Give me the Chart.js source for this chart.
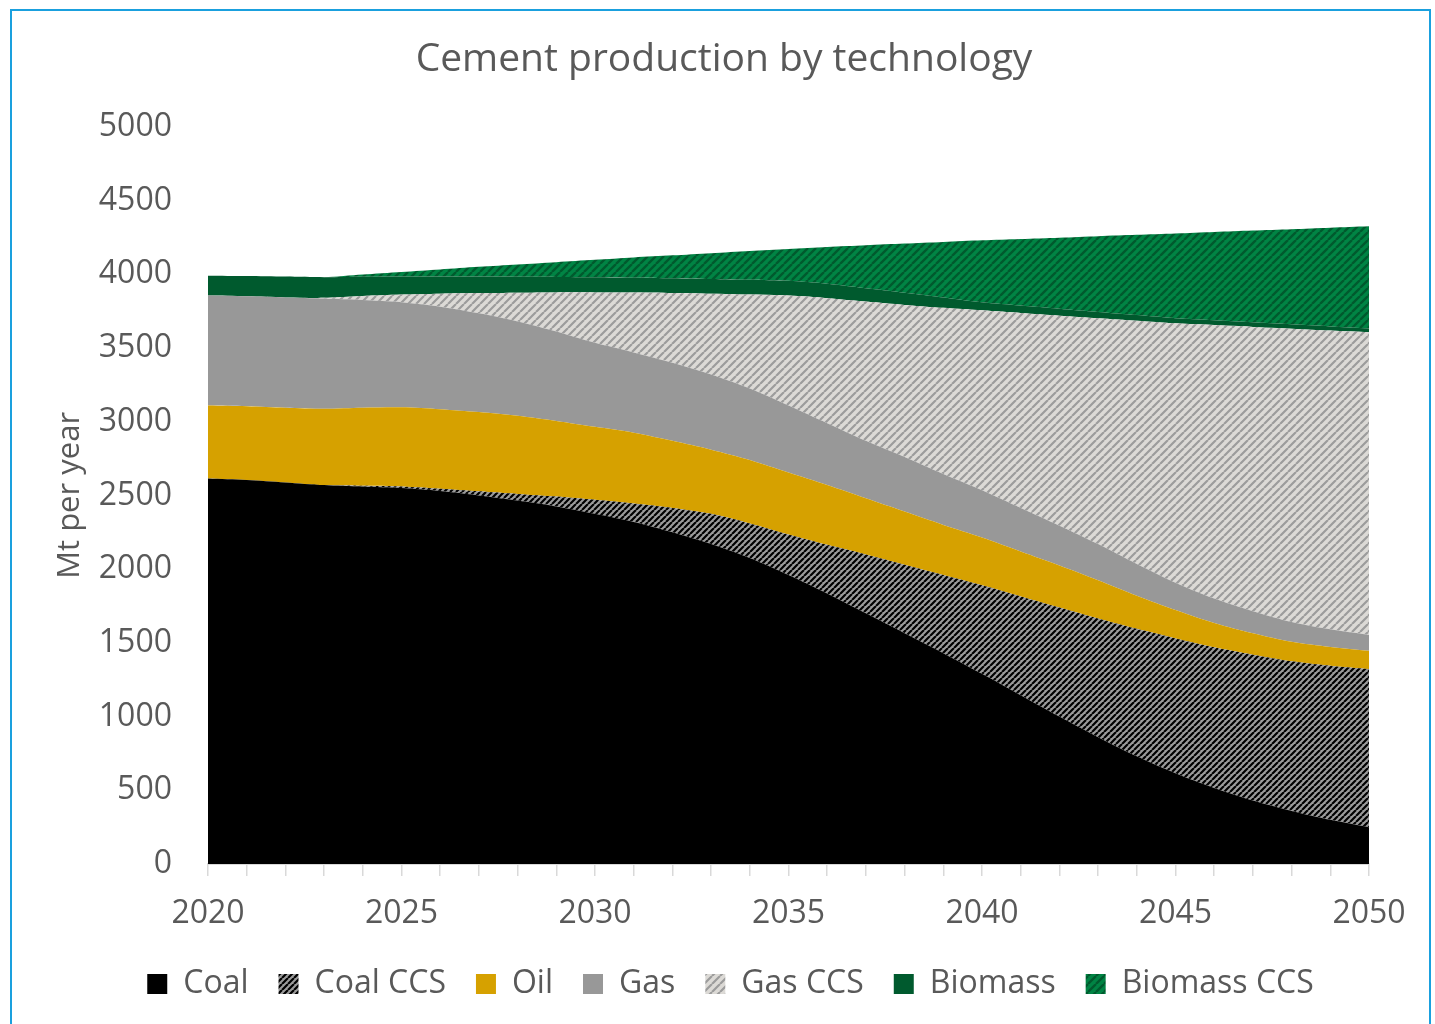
<!DOCTYPE html>
<html>
<head>
<meta charset="utf-8">
<script src="https://cdn.jsdelivr.net/npm/chart.js@4.4.1/dist/chart.umd.min.js"></script>
<style>
  html, body { margin: 0; padding: 0; background: #ffffff; }
  #wrap { position: absolute; left: 0; top: 0; width: 1435px; height: 1024px; }
  #frame { position: absolute; left: 10px; top: 9px; width: 1421px; height: 1030px;
           border-top: 2px solid #1AA0DE; border-left: 2px solid #1AA0DE; border-right: 2px solid #1AA0DE; box-sizing: border-box; }
  canvas { position: absolute; left: 0; top: 0; }
</style>
</head>
<body>
<div id="wrap">
  <div id="frame"></div>
  <canvas id="c" width="1435" height="1024"></canvas>
</div>
<script>
const years = [2020,2021,2022,2023,2024,2025,2026,2027,2028,2029,2030,2031,2032,2033,2034,2035,2036,2037,2038,2039,2040,2041,2042,2043,2044,2045,2046,2047,2048,2049,2050];
const coal = [2615,2605,2588,2570,2560,2550,2530,2500,2465,2425,2375,2320,2250,2170,2075,1960,1835,1700,1565,1430,1290,1145,1000,860,730,615,515,430,360,300,250];
const coalCCS = [0,0,0,0,5,10,15,28,45,67,95,125,165,205,235,275,330,400,465,530,600,670,740,805,865,915,955,990,1015,1045,1072];
const oil = [495,500,507,518,530,538,540,537,530,513,495,480,455,435,430,420,405,380,360,340,325,305,285,260,225,193,165,145,132,127,124];
const gas = [745,745,748,747,730,712,695,670,640,607,570,545,530,510,485,455,420,390,370,345,320,295,270,245,215,185,165,150,135,120,108];
const gasCCS = [0,0,0,5,27,52,88,137,195,265,342,406,473,548,637,745,848,945,1032,1127,1220,1322,1424,1532,1650,1759,1855,1928,1989,2026,2052];
const biomass = [135,138,141,140,131,123,117,112,108,105,103,101,100,100,100,100,97,90,83,71,55,51,47,42,38,35,33,31,29,28,26];
const biomassCCS = [0,0,0,0,15,30,47,66,83,100,118,137,155,175,196,217,250,292,333,376,420,451,482,514,544,574,598,622,645,669,693];
const yTicks = [0,500,1000,1500,2000,2500,3000,3500,4000,4500,5000];
const seriesNames = ['Coal','Coal CCS','Oil','Gas','Gas CCS','Biomass','Biomass CCS'];

const FONT = "'Open Sans', 'Liberation Sans', sans-serif";
const TXT = '#595959';

function stripes(bg, fg, period, width) {
  const c = document.createElement('canvas');
  c.width = period; c.height = period;
  const x = c.getContext('2d');
  x.fillStyle = bg; x.fillRect(0, 0, period, period);
  x.strokeStyle = fg; x.lineWidth = width;
  x.beginPath();
  for (let k = -1; k <= 1; k++) { x.moveTo(k * period, period); x.lineTo(k * period + period, 0); }
  x.stroke();
  return x.createPattern(c, 'repeat');
}

const fills = [
  '#000000',
  stripes('#9B9B9B', '#000000', 6, 2.2),
  '#D6A100',
  '#989898',
  stripes('#DCDAD6', '#9C9C9C', 8, 2.2),
  '#005A2E',
  stripes('#008444', '#005A2E', 8, 2.4)
];
const values = [coal, coalCCS, oil, gas, gasCCS, biomass, biomassCCS];

const datasets = values.map((v, i) => ({
  label: seriesNames[i],
  data: v,
  backgroundColor: fills[i],
  borderColor: 'rgba(0,0,0,0)',
  borderWidth: 0,
  pointRadius: 0,
  tension: 0.3,
  fill: i === 0 ? 'origin' : '-1'
}));

const recenter = {
  id: 'recenter',
  afterLayout(chart) {
    if (chart.titleBlock) { chart.titleBlock.left = 13; chart.titleBlock.right = 1435; }
    if (chart.legend) { chart.legend.left = 26; chart.legend.right = 1435; }
  }
};

new Chart(document.getElementById('c'), {
  type: 'line',
  data: { labels: years, datasets },
  plugins: [recenter],
  options: {
    responsive: false,
    animation: false,
    events: [],
    layout: { padding: { left: 48, right: 66, top: 0, bottom: 14 } },
    plugins: {
      title: {
        display: true,
        text: 'Cement production by technology',
        color: TXT,
        font: { family: FONT, size: 39, weight: 'normal' },
        padding: { top: 36, bottom: 44 }
      },
      legend: {
        position: 'bottom',
        labels: {
          color: TXT,
          font: { family: FONT, size: 32 },
          boxWidth: 20,
          boxHeight: 20,
          padding: 30
        }
      },
      tooltip: { enabled: false }
    },
    scales: {
      x: {
        type: 'category',
        stacked: true,
        offset: false,
        grid: { display: true, drawOnChartArea: false, drawTicks: true, tickLength: 12, color: '#D9D9D9', lineWidth: 1.5 },
        border: { display: true, color: '#D9D9D9', width: 2 },
        ticks: {
          autoSkip: false, maxRotation: 0, minRotation: 0,
          color: TXT, font: { family: FONT, size: 32 }, padding: 19,
          callback: function(val, idx) { return years[idx] % 5 === 0 ? String(years[idx]) : ''; }
        },
        afterFit: s => { s.height = 74; }
      },
      y: {
        stacked: true,
        min: 0, max: 5000,
        afterBuildTicks: s => { s.ticks = yTicks.map(v => ({ value: v })); },
        grid: { display: false, drawTicks: false },
        border: { display: false },
        ticks: { color: TXT, font: { family: FONT, size: 32 }, padding: 36, callback: v => String(v) },
        title: { display: true, text: 'Mt per year', color: TXT, font: { family: FONT, size: 31 }, padding: { top: 4, bottom: 0 } },
        afterFit: s => { s.width = 160; }
      }
    }
  }
});
</script>
</body>
</html>
